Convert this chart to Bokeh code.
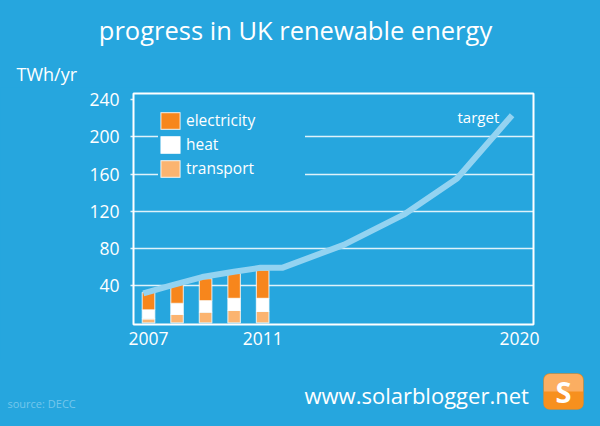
from bokeh.plotting import figure
from bokeh.layouts import column
from bokeh.models import (FixedTicker, Label, Legend, LegendItem, BoxAnnotation,
                          Range1d, ColumnDataSource)
from bokeh.embed import file_html
from bokeh.resources import INLINE

# ---- data ----
years = [2007, 2008, 2009, 2010, 2011]
electricity = [18.7, 20.4, 23.7, 26.8, 30.4]
heat = [9.6, 12.0, 12.4, 13.1, 14.1]
transport = [4.3, 9.0, 11.4, 13.2, 12.2]

target_years = [2006.82, 2007.77, 2008.88, 2009.99, 2010.92, 2011.68,
                2013.84, 2015.94, 2017.81, 2019.74]
target_values = [31.5, 40.0, 49.2, 54.8, 59.1, 59.1, 83.8, 116.3, 155.2, 223.3]

y_ticks = [40, 80, 120, 160, 200, 240]
grid_ticks = [40, 80, 120, 160, 200]
x_ticks = [2007, 2011, 2020]
series_names = ["electricity", "heat", "transport"]

# ---- styling ----
BG = "#26a6de"
C_ELEC = "#f7861c"
C_HEAT = "#ffffff"
C_TRANS = "#fbb470"
C_TARGET = "#93d3f1"
FONT = "Open Sans"
W = 584
BASE_SHIFT = 0.45  # em; correction so that the given y is the text baseline

X0, X1 = 2006.474, 2020.49
Y0, Y1 = -1.85, 246.6
# frame position in page pixels
FL, FR, FT, FB = 133, 533, 93, 324
TOP_H = 87
BOT_Y = 358
MAIN_H = BOT_Y - TOP_H
BOT_H = 410 - BOT_Y


def rx(px):
    return X0 + (px - FL) / (FR - FL) * (X1 - X0)


def ry(py):
    return Y1 - (py - FT) / (FB - FT) * (Y1 - Y0)


def strip(h, y_top):
    f = figure(width=W, height=h, x_range=Range1d(0, W),
               y_range=Range1d(y_top + h, y_top), title=None,
               x_axis_location=None, y_axis_location=None, min_border=0,
               toolbar_location=None, output_backend="svg", frame_align=False)
    f.background_fill_color = BG
    f.border_fill_color = BG
    f.outline_line_color = None
    f.grid.grid_line_color = None
    return f


def add_label(fig, text, x, py, size, align="left", color="white", style="normal",
              main=False):
    # py: baseline in page pixels
    y_px = py - BASE_SHIFT * size
    y = ry(y_px) if main else y_px
    fig.add_layout(Label(x=x, y=y, text=text, text_align=align,
                         text_baseline="alphabetic", text_color=color,
                         text_font=FONT, text_font_size=f"{size}px",
                         text_font_style=style))


# ---- top strip: title and unit ----
top = strip(TOP_H, 0)
add_label(top, "progress in UK renewable energy", 295, 41, 25.5, align="center")
add_label(top, "TWh/yr", 16, 81.5, 18)

# ---- main chart ----
p = figure(width=W, height=MAIN_H, frame_width=FR - FL, frame_height=FB - FT,
           x_range=Range1d(X0, X1), y_range=Range1d(Y0, Y1),
           output_backend="svg", toolbar_location=None, frame_align=False,
           min_border_left=FL, min_border_right=W - FR,
           min_border_top=FT - TOP_H, min_border_bottom=BOT_Y - FB)
p.background_fill_color = BG
p.border_fill_color = BG
p.outline_line_color = "white"
p.outline_line_width = 2

p.xgrid.visible = False
p.ygrid.ticker = FixedTicker(ticks=grid_ticks)
p.ygrid.grid_line_color = "white"
p.ygrid.grid_line_width = 1.5
p.ygrid.grid_line_alpha = 0.85

p.yaxis.ticker = FixedTicker(ticks=y_ticks)
p.yaxis.axis_line_color = None
p.yaxis.major_tick_line_color = "white"
p.yaxis.major_tick_line_width = 1.5
p.yaxis.major_tick_line_alpha = 0.85
p.yaxis.major_tick_out = 3
p.yaxis.major_tick_in = 0
p.yaxis.minor_tick_line_color = None
p.yaxis.major_label_standoff = 11
p.yaxis.major_label_text_color = "white"
p.yaxis.major_label_text_font = FONT
p.yaxis.major_label_text_font_size = "17.5px"

p.xaxis.ticker = FixedTicker(ticks=x_ticks)
p.xaxis.axis_line_color = None
p.xaxis.major_tick_line_color = None
p.xaxis.minor_tick_line_color = None
p.xaxis.major_tick_out = 0
p.xaxis.major_label_standoff = 7
p.xaxis.major_label_text_color = "white"
p.xaxis.major_label_text_font = FONT
p.xaxis.major_label_text_font_size = "17.5px"

src = ColumnDataSource(dict(year=years, electricity=electricity, heat=heat,
                            transport=transport))
rs = p.vbar_stack(["transport", "heat", "electricity"], x="year", width=0.44,
                  source=src, fill_color=[C_TRANS, C_HEAT, C_ELEC],
                  line_color="white", line_alpha=0.7, line_width=1.2)

p.line(target_years, target_values, line_color=C_TARGET, line_width=6)

legend = Legend(items=[LegendItem(label=series_names[0], renderers=[rs[2]]),
                       LegendItem(label=series_names[1], renderers=[rs[1]]),
                       LegendItem(label=series_names[2], renderers=[rs[0]])],
                location=(25, 145), background_fill_color=BG,
                background_fill_alpha=1, border_line_color=None,
                padding=8, spacing=2, glyph_width=24, glyph_height=21,
                label_height=21, label_standoff=4, label_width=119,
                label_text_color="white", label_text_font=FONT,
                label_text_font_size="15.5px")
p.add_layout(legend)

add_label(p, "target", rx(457), 123, 15, main=True)

# ---- bottom strip: site, logo, source ----
bot = strip(BOT_H, BOT_Y)
add_label(bot, "www.solarblogger.net", 304, 404, 22)
add_label(bot, "source: DECC", 7, 408, 11, color="#74c6ec")
bot.add_layout(BoxAnnotation(left=543, right=583, top=373, bottom=409,
                             fill_color="#f7901e", fill_alpha=1,
                             line_color="#e8801a", line_width=1, border_radius=6))
bot.add_layout(BoxAnnotation(left=543.5, right=582.5, top=373.5, bottom=391,
                             fill_color="#fbae62", fill_alpha=1, line_color=None,
                             border_radius=(6, 6, 0, 0)))
bot.add_layout(Label(x=563, y=391, text="S", text_align="center",
                     text_baseline="middle", text_color="white", text_font=FONT,
                     text_font_size="29px", text_font_style="bold"))

layout = column(top, p, bot, spacing=0)

open("out.html", "w").write(
    file_html(layout, INLINE).replace(
        "</head>", "<style>html,body{background:#26a6de;}</style></head>", 1))
